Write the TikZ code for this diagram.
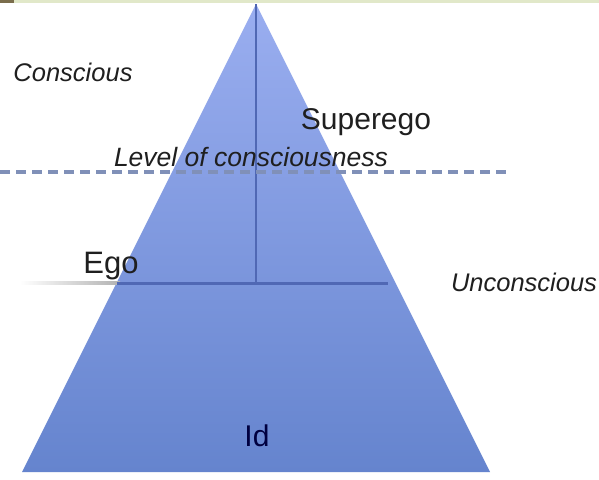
\documentclass[tikz,border=0pt]{standalone}
\usepackage{fontspec}
\setmainfont{Liberation Sans}
\begin{document}
\begin{tikzpicture}[x=1pt,y=-1pt,
  lbl/.style={inner sep=0pt, text=black!88},
  up/.style={lbl, font=\fontsize{30}{32}\selectfont},
  it/.style={lbl, font=\fontsize{25.5}{27}\selectfont\itshape},
  divider/.style={draw=triline, line width=3pt}]
\definecolor{tritop}{HTML}{9AAEF0}
\definecolor{tribot}{HTML}{6584CE}
\definecolor{triline}{HTML}{5068B4}
\definecolor{dashcol}{HTML}{8090B8}
\definecolor{stripg}{HTML}{E1E8C9}
\definecolor{stripb}{HTML}{7A6D4C}
\useasboundingbox (0,0) rectangle (599,479);
\fill[white] (0,0) rectangle (599,479);
% top strip
\fill[stripg] (0,0) rectangle (599,2.5);
\fill[stripb] (0,0) rectangle (14,2.5);
% pyramid
\coordinate (apex) at (256,4);
\coordinate (bl) at (22,472);
\coordinate (br) at (490,472);
\shade[top color=tritop, bottom color=tribot] (apex) -- (br) -- (bl) -- cycle;
% faded ego line outside the pyramid
\shade[left color=white, right color=black!30] (20,281.5) rectangle (120,284.5);
\coordinate (hl) at (117,283);
\coordinate (hr) at (388,283);
\coordinate (vb) at (256,283);
\draw[divider] (hl) -- (hr);
\draw[divider, line width=2.5pt] (apex) -- (vb);
% dashed level line
\coordinate (dl) at (0,172);
\coordinate (dr) at (506,172);
\draw[dashcol, line width=3.5pt, dash pattern=on 10pt off 6pt] (dl) -- (dr);
% labels
\node[it] (conscious) at (73,72) {Conscious};
\node[up] (superego) at (366,122) {Superego};
\node[lbl, font=\fontsize{26.5}{28}\selectfont\itshape] (level) at (251,157) {Level of consciousness};
\node[up, font=\fontsize{31}{33}\selectfont] (ego) at (111,266) {Ego};
\node[it] (unconscious) at (524,282) {Unconscious};
\node[up, text=black!75!blue] (id) at (257,436) {Id};
\end{tikzpicture}
\end{document}
